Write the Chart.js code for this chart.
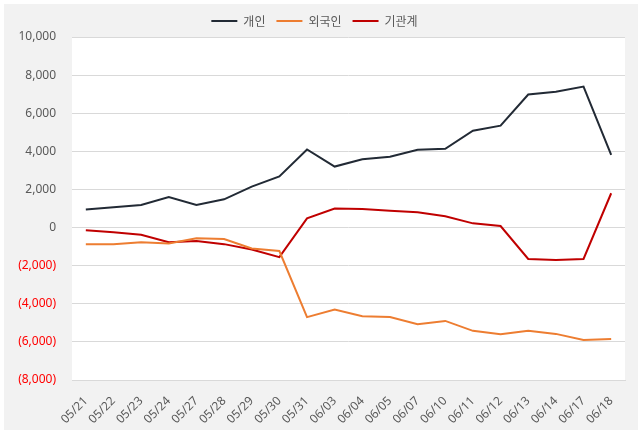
<!DOCTYPE html>
<html>
<head>
<meta charset="utf-8">
<script src="https://cdn.jsdelivr.net/npm/chart.js@4.4.1/dist/chart.umd.min.js"></script>
<style>
body{margin:0;background:#fff;}
#wrap{position:absolute;left:4px;top:4px;width:634px;height:426px;background:#f2f2f2;}
</style>
</head>
<body>
<div id="wrap"><canvas id="chart" width="634" height="426"></canvas></div>
<script>
const dates=["05/21","05/22","05/23","05/24","05/27","05/28","05/29","05/30","05/31","06/03","06/04","06/05","06/07","06/10","06/11","06/12","06/13","06/14","06/17","06/18"]

const individual=[950,1060,1180,1600,1180,1480,2150,2680,4100,3200,3580,3720,4080,4130,5080,5350,6980,7130,7400,3820]
const foreign=[-870,-870,-770,-840,-560,-600,-1100,-1230,-4700,-4300,-4650,-4700,-5070,-4900,-5420,-5600,-5420,-5580,-5900,-5850]
const institution=[-140,-250,-380,-770,-700,-870,-1150,-1550,480,1000,970,880,800,590,220,80,-1650,-1700,-1650,1800]

const yTicks=[-8000,-6000,-4000,-2000,0,2000,4000,6000,8000,10000]

/* 흰 배경 plot area */
const plotBg={
id:"plotBg",
beforeDraw(chart){
const a=chart.chartArea
const ctx=chart.ctx
ctx.save()
ctx.fillStyle="#ffffff"
ctx.fillRect(a.left,a.top,a.right-a.left,a.bottom-a.top)
ctx.restore()
}
}

const fmt=v=>v<0?"("+Math.abs(v).toLocaleString("en-US")+")":v.toLocaleString("en-US")

new Chart(document.getElementById("chart"),{
type:"line",
data:{
labels:dates,
datasets:[
{label:"개인",data:individual,borderColor:"#222a35",backgroundColor:"#222a35",borderWidth:2,pointRadius:0,tension:0,pointStyle:"line"},
{label:"외국인",data:foreign,borderColor:"#ed7d31",backgroundColor:"#ed7d31",borderWidth:2,pointRadius:0,tension:0,pointStyle:"line"},
{label:"기관계",data:institution,borderColor:"#c00000",backgroundColor:"#c00000",borderWidth:2,pointRadius:0,tension:0,pointStyle:"line"}
]
},
options:{
responsive:false,
animation:false,
layout:{padding:{left:0,right:13,top:0,bottom:0}},
plugins:{
legend:{
position:"top",
labels:{usePointStyle:true,pointStyleWidth:26,padding:11,color:"#595959",font:{family:"'Noto Sans CJK KR','Noto Sans',sans-serif",size:12}}
},
tooltip:{enabled:false}
},
scales:{
x:{
offset:true,
grid:{display:false},
border:{display:true,color:"#d9d9d9"},
ticks:{minRotation:45,maxRotation:45,autoSkip:false,color:"#595959",padding:6,font:{family:"'Noto Sans','Noto Sans CJK KR',sans-serif",size:12}},
afterFit(s){s.height=50}
},
y:{
min:-8000,max:10000,
afterBuildTicks(s){s.ticks=yTicks.map(v=>({value:v}))},
grid:{color:"#d9d9d9",drawTicks:false},
border:{display:false},
ticks:{
padding:16,
font:{family:"'Noto Sans','Noto Sans CJK KR',sans-serif",size:12},
color:c=>c.tick&&c.tick.value<0?"#ff0000":"#595959",
callback:v=>fmt(v)
},
afterFit(s){s.width=68}
}
}
},
plugins:[plotBg]
})
</script>
</body>
</html>
